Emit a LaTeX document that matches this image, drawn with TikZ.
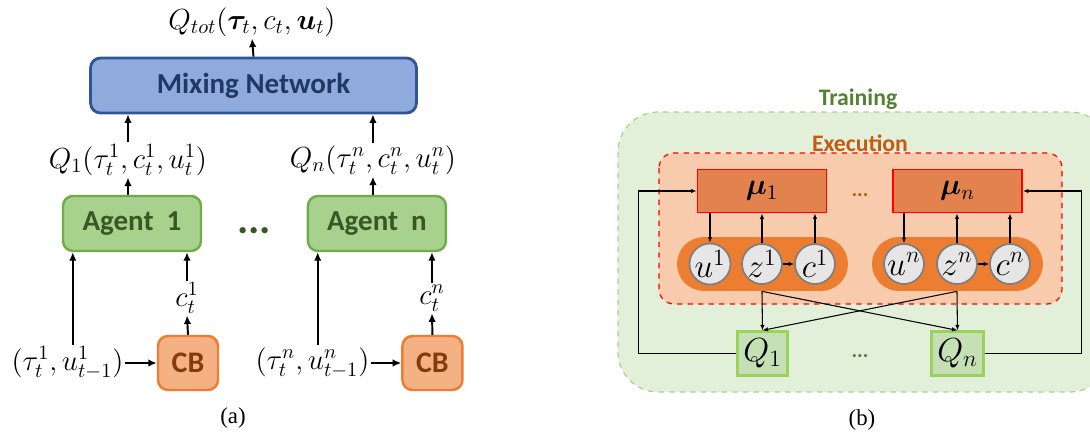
\RequirePackage{fix-cm}
\documentclass[tikz,border=0pt]{standalone}
\usepackage{amsmath,bm}
\usepackage{fontspec}
\newfontfamily\calibri{Carlito}
\newfontfamily\capfont{Liberation Serif}
\usetikzlibrary{positioning,arrows.meta}

\definecolor{mixfill}{HTML}{8FAADC}
\definecolor{mixdraw}{HTML}{2F5597}
\definecolor{mixtext}{HTML}{203864}
\definecolor{agentfill}{HTML}{A9D18E}
\definecolor{agentdraw}{HTML}{70AD47}
\definecolor{agenttext}{HTML}{385723}
\definecolor{cbfill}{HTML}{F4B183}
\definecolor{cbdraw}{HTML}{ED7D31}
\definecolor{cbtext}{HTML}{843C0C}
\definecolor{trainfill}{HTML}{E2F0D9}
\definecolor{traindraw}{HTML}{A9D18E}
\definecolor{traintext}{HTML}{548235}
\definecolor{execfill}{HTML}{F8CBAD}
\definecolor{exectext}{HTML}{C55A11}
\definecolor{mufill}{HTML}{E2834F}
\definecolor{pillfill}{HTML}{ED7D31}
\definecolor{varfill}{HTML}{E7E6E6}
\definecolor{vardraw}{HTML}{7F7F7F}
\definecolor{qfill}{HTML}{C5E0B4}
\definecolor{qdraw}{HTML}{9BD35A}

\begin{document}
\begin{tikzpicture}[x=0.02cm, y=-0.02cm, >={Latex[length=0.17cm,width=0.15cm]}]

    % Styles
    \tikzstyle{mixing} = [rectangle, rounded corners=0.2cm, draw=mixdraw, line width=1.6pt, fill=mixfill, minimum width=6.52cm, minimum height=1.1cm, text=mixtext, font=\calibri\bfseries\fontsize{16.5}{19}\selectfont]
    \tikzstyle{agent} = [rectangle, rounded corners=0.2cm, draw=agentdraw, line width=1.4pt, fill=agentfill, minimum width=2.76cm, minimum height=1.1cm, text=agenttext, font=\calibri\bfseries\fontsize{16.5}{19}\selectfont]
    \tikzstyle{cb} = [rectangle, rounded corners=0.2cm, draw=cbdraw, line width=1.4pt, fill=cbfill, minimum width=1.2cm, minimum height=1.08cm, text=cbtext, font=\calibri\bfseries\fontsize{17}{19}\selectfont]
    \tikzstyle{mathtext} = [inner sep=1pt, font=\fontsize{16.5}{19}\selectfont]
    \tikzstyle{arrow} = [->, line width=1.1pt]
    \tikzstyle{trainbox} = [draw=traindraw, fill=trainfill, dashed, line width=0.7pt, rounded corners=0.8cm]
    \tikzstyle{execbox} = [draw=red, fill=execfill, dashed, line width=0.7pt, rounded corners=0.3cm]
    \tikzstyle{mu} = [rectangle, draw=red, line width=1.1pt, fill=mufill, minimum width=2.58cm, minimum height=0.86cm, font=\fontsize{17}{19}\selectfont]
    \tikzstyle{pill} = [rectangle, fill=pillfill, rounded corners=0.54cm, minimum width=3.42cm, minimum height=1.08cm]
    \tikzstyle{var} = [circle, draw=vardraw, line width=1pt, fill=varfill, minimum size=0.8cm, inner sep=0pt, font=\fontsize{19}{19}\selectfont]
    \tikzstyle{qbox} = [rectangle, draw=qdraw, line width=1.3pt, fill=qfill, minimum width=1.0cm, minimum height=0.88cm, font=\fontsize{19}{19}\selectfont]
    \tikzstyle{link} = [-{Latex[length=0.11cm,width=0.09cm]}, line width=0.6pt]
    \tikzstyle{caption} = [font=\capfont\fontsize{13}{15}\selectfont]
    \tikzstyle{title} = [font=\calibri\bfseries\fontsize{13.5}{16}\selectfont]

    \useasboundingbox (0,0) rectangle (1090,436);

    % (a) Mixing Network
    \node[mathtext] (qtot) at (252,22) {$Q_{tot}(\bm{\tau}_t, c_t, \bm{u}_t)$};
    \node[mixing] (mixing) at (253.5,85.5) {Mixing Network};

    % Agent Q values
    \node[mathtext] (q1lbl) at (128,160) {$Q_1(\tau_t^1, c_t^1, u_t^1)$};
    \node[mathtext] (qnlbl) [right of=q1lbl, node distance=4.9cm] {$Q_n(\tau_t^n, c_t^n, u_t^n)$};

    % Agents
    \node[agent] (agent1) at (132,223.5) {Agent\ \ 1};
    \node[agent] (agentn) [right of=agent1, node distance=4.9cm] {Agent\ \ n};
    \node[font=\calibri\bfseries\fontsize{24}{24}\selectfont, text=agenttext] (adots) at (254,231) {...};

    % Communication blocks
    \node[cb] (cb1) at (188,363) {CB};
    \node[cb] (cbn) [right of=cb1, node distance=4.89cm] {CB};
    \node[mathtext] (c1lbl) at (187,298) {$c_t^1$};
    \node[mathtext] (cnlbl) [right of=c1lbl, node distance=4.9cm] {$c_t^n$};
    \node[mathtext] (tau1) at (67.5,363) {$(\tau_t^1, u_{t-1}^1)$};
    \node[mathtext] (taun) [right of=tau1, node distance=4.9cm] {$(\tau_t^n, u_{t-1}^n)$};

    \node[caption] (capa) at (233,418) {(a)};

    % Arrows (a)
    \draw[arrow] (mixing.north) -- (qtot.south);
    \draw[arrow] (q1lbl.north) -- (q1lbl.north |- mixing.south);
    \draw[arrow] (qnlbl.north) -- (qnlbl.north |- mixing.south);
    \draw[arrow] (agent1.north -| q1lbl) -- (q1lbl.south);
    \draw[arrow] (agentn.north -| qnlbl) -- (qnlbl.south);
    \draw[arrow] ([xshift=0.22cm]agent1.south west |- tau1.north) -- ([xshift=0.22cm]agent1.south west);
    \draw[arrow] ([xshift=0.22cm]agentn.south west |- taun.north) -- ([xshift=0.22cm]agentn.south west);
    \draw[arrow] (c1lbl.north) -- (c1lbl.north |- agent1.south);
    \draw[arrow] (cnlbl.north) -- (cnlbl.north |- agentn.south);
    \draw[arrow] (cb1.north) -- (c1lbl.south);
    \draw[arrow] (cbn.north) -- (cnlbl.south);
    \draw[arrow] (tau1.east) -- (cb1.west);
    \draw[arrow] (taun.east) -- (cbn.west);

    % (b) Training / Execution
    \draw[trainbox] (618,112) rectangle (1110,392);
    \node[title, text=traintext] (training) at (858,99) {Training};
    \draw[execbox] (659,153) rectangle (1062,304);
    \node[title, text=exectext] (execution) at (860,143) {Execution};

    % Policies
    \node[mu] (mu1) at (762,191) {$\bm{\mu}_1$};
    \node[mu] (mun) [right of=mu1, node distance=3.91cm] {$\bm{\mu}_n$};
    \node[font=\calibri\bfseries\fontsize{12}{12}\selectfont, text=exectext] (mdots) at (860,195) {...};

    % Agent variables
    \node[pill] (pill1) at (762.5,264) {};
    \node[pill] (pilln) [right of=pill1, node distance=3.9cm] {};
    \node[var] (u1) at (710,264) {$u^1$};
    \node[var] (z1) [right of=u1, node distance=1.04cm] {$z^1$};
    \node[var] (c1) [right of=z1, node distance=1.06cm] {$c^1$};
    \node[var] (un) at (904,264) {$u^n$};
    \node[var] (zn) [right of=un, node distance=1.06cm] {$z^n$};
    \node[var] (cn) [right of=zn, node distance=1.06cm] {$c^n$};

    % Q values
    \node[qbox] (q1) at (762.5,353.5) {$Q_1$};
    \node[qbox] (qn) [right of=q1, node distance=3.9cm] {$Q_n$};
    \node[font=\calibri\bfseries\fontsize{12}{12}\selectfont, text=traintext] (qdots) at (860,356) {...};

    \node[caption] (capb) at (862,420) {(b)};

    % Arrows (b)
    \draw[link] (mu1.south -| u1) -- (u1.north);
    \draw[link] (z1.north) -- (z1.north |- mu1.south);
    \draw[link] (c1.north) -- (c1.north |- mu1.south);
    \draw[link] (z1) -- (c1);
    \draw[link] (mun.south -| un) -- (un.north);
    \draw[link] (zn.north) -- (zn.north |- mun.south);
    \draw[link] (cn.north) -- (cn.north |- mun.south);
    \draw[link] (zn) -- (cn);

    \draw[link] (z1 |- pill1.south) -- (q1.north);
    \draw[link] (z1 |- pill1.south) -- (qn.north);
    \draw[link] (zn |- pilln.south) -- (qn.north);
    \draw[link] (zn |- pilln.south) -- (q1.north);

    \draw[link] (q1.west) -- ++(-98,0) |- (mu1.west);
    \draw[link] (qn.east) -- ++(97,0) |- (mun.east);

\end{tikzpicture}
\end{document}
